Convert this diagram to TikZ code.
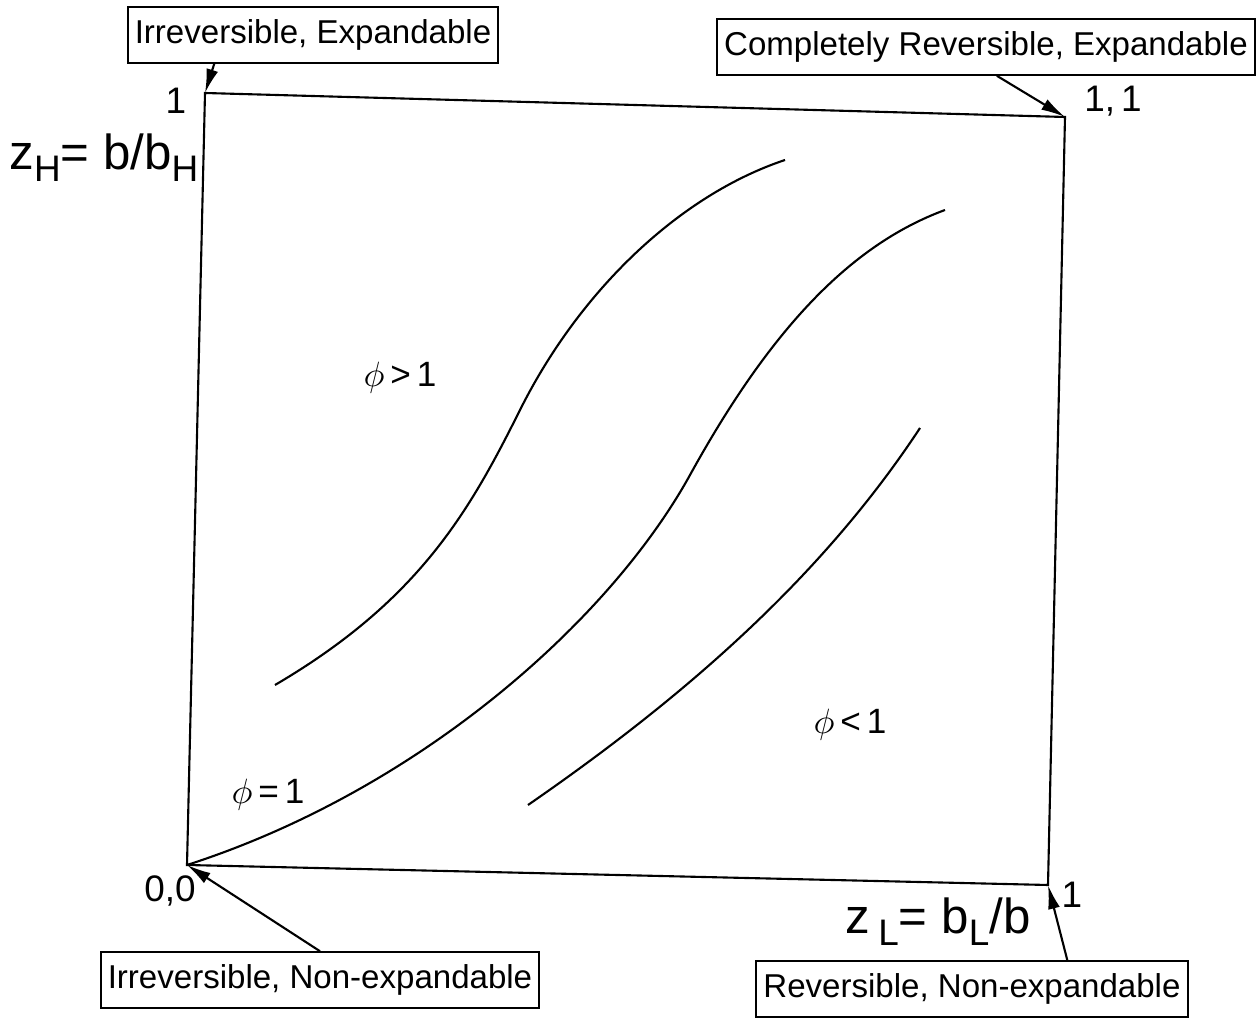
\documentclass[tikz,border=0pt]{standalone}
\usepackage{fontspec}
\setmainfont{Liberation Sans}
\usepackage{tikz}
\usetikzlibrary{arrows.meta, positioning, calc}
\tikzset{
  tag/.style={draw, semithick, inner xsep=2pt, inner ysep=3.5pt, font=\fontsize{9.4}{11}\selectfont},
  pointer/.style={semithick, -{Latex[length=2.4mm,width=1.2mm]}},
  curve/.style={semithick},
  num/.style={font=\fontsize{10.5}{12}\selectfont},
  axis/.style={font=\fontsize{14}{16}\selectfont},
  region/.style={font=\fontsize{10}{12}\selectfont}
}
\newcommand{\lowsub}[1]{\raisebox{-0.45ex}{\fontsize{10.5}{12}\selectfont #1}}

\begin{document}
\begin{tikzpicture}[x=0.01cm,y=-0.01cm]
  \useasboundingbox (0,0) rectangle (1260,1019);
  \coordinate (O) at (187,865);
  \coordinate (X) at (1048,885);
  \coordinate (XY) at (1065,117);
  \coordinate (Y) at (205,93);
  \draw[semithick] (O) -- (X) -- (XY) -- (Y) -- cycle;
  \draw[curve] (275,685) .. controls (420,600) and (470,510) .. (520,410)
    .. controls (580,290) and (680,195) .. (785,160);
  \draw[curve] (O) .. controls (420,790) and (610,620) .. (690,475)
    .. controls (770,330) and (850,245) .. (945,210);
  \draw[curve] (528,805) .. controls (680,700) and (820,580) .. (920,428);
  \node[tag] (irrexp) at (313,35) {Irreversible, Expandable};
  \node[tag] (revexp) at (986,47) {Completely Reversible, Expandable};
  \node[tag] (irrnon) at (320,980) {Irreversible, Non-expandable};
  \node[tag] (revnon) at (972,989) {Reversible, Non-expandable};
  \draw[pointer] ($(irrexp.south west)!0.235!(irrexp.south east)$) -- (Y);
  \draw[pointer] ($(revexp.south west)!0.52!(revexp.south east)$) -- (XY);
  \draw[pointer] (irrnon.north) -- (O);
  \draw[pointer] ($(revnon.north west)!0.72!(revnon.north east)$) -- (X);
  \node[num] (ytop) at (176,101) {1};
  \node[num] (xyval) at (1113,101) {1,\,1};
  \node[num] (oval) at (170,891) {0,0};
  \node[num] (xend) at (1072,895) {1};
  \node[axis] (zh) at (104,158) {z\lowsub{H}= b/b\lowsub{H}};
  \node[axis] (zl) at (938,922) {z\,\lowsub{L}= b\lowsub{L}/b};
  \node[region] (above) at (400,378) {$\phi$\,>\,1};
  \node[region] (equal) at (268,795) {$\phi$\,=\,1};
  \node[region] (below) at (850,725) {$\phi$\,<\,1};
\end{tikzpicture}
\end{document}
